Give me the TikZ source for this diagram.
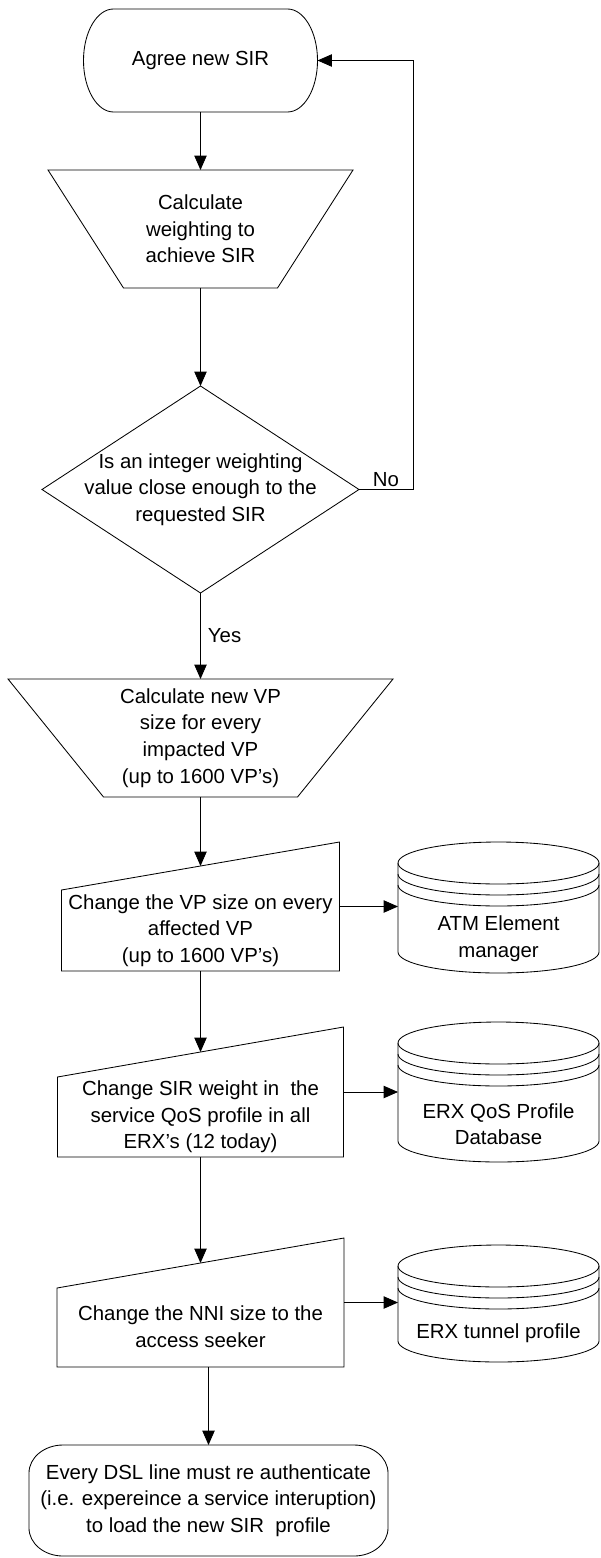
\documentclass[tikz,border=0pt]{standalone}
\usepackage{fontspec}
\setmainfont{Liberation Sans}
\usetikzlibrary{arrows.meta,calc}

% terminator outline round a node: node, x radius, y radius
\newcommand{\termline}[3]{%
  \draw[outline] ([xshift=#2]#1.north west) -- ([xshift=-#2]#1.north east)
    arc[start angle=90, end angle=0, x radius=#2, y radius=#3]
    -- ([yshift=#3]#1.south east)
    arc[start angle=0, end angle=-90, x radius=#2, y radius=#3]
    -- ([xshift=#2]#1.south west)
    arc[start angle=270, end angle=180, x radius=#2, y radius=#3]
    -- ([yshift=-#3]#1.north west)
    arc[start angle=180, end angle=90, x radius=#2, y radius=#3] -- cycle;}
% trapezium, wide side on top: node, inset of the bottom corners
\newcommand{\trapline}[2]{%
  \draw[outline] (#1.north west) -- (#1.north east)
    -- ([xshift=-#2]#1.south east) -- ([xshift=#2]#1.south west) -- cycle;}
% manual input: node, drop of the top left corner
\newcommand{\manline}[2]{%
  \draw[outline] ([yshift=-#2]#1.north west) -- (#1.north east)
    -- (#1.south east) -- (#1.south west) -- cycle;}
% stacked disk store: node, x radius
\newcommand{\diskline}[2]{%
  \draw[outline] ([yshift=-0.525cm]#1.north west) -- ([yshift=0.525cm]#1.south west)
    arc[start angle=180, end angle=360, x radius=#2, y radius=0.525cm]
    -- ([yshift=-0.525cm]#1.north east)
    arc[start angle=0, end angle=180, x radius=#2, y radius=0.525cm];
  \foreach \dy in {0,0.275,0.55}
    \draw[outline] ([yshift=-0.525cm-\dy cm]#1.north west)
      arc[start angle=180, end angle=360, x radius=#2, y radius=0.525cm];}

\begin{document}
\begin{tikzpicture}[
    box/.style={rectangle, inner sep=0pt, outer sep=0pt, align=center,
        font=\fontsize{14.5}{18.9}\selectfont},
    outline/.style={draw=black, line width=0.6pt},
    arr/.style={-{Triangle[length=3.6mm, width=3.1mm]}, line width=0.6pt},
    lbl/.style={font=\fontsize{14.5}{18.9}\selectfont, inner sep=2pt}
]
    \useasboundingbox (0,0) rectangle (15,-38.95);

    % main column
    \node[box, minimum width=5.85cm, minimum height=2.575cm] (agree) at (5.0125,-1.5125)
        {Agree new SIR};
    \node[box, minimum width=7.625cm, minimum height=2.95cm] (calcw) at (5.0125,-5.725)
        {Calculate\\weighting to\\achieve SIR};
    \node[box, minimum width=7.925cm, minimum height=5.175cm] (dec) at (5.0125,-12.2375)
        {Is an integer weighting\\value close enough to the\\requested SIR};
    \node[box, minimum width=9.625cm, minimum height=2.95cm] (calcvp) at (5.0125,-18.45)
        {Calculate new VP\\size for every\\impacted VP\\(up to 1600 VP's)};

    \node[box, minimum width=6.95cm, minimum height=3.225cm] (vpchg) at (5.0125,-22.6625) {};
    \node[box] (vpchgtxt) at ([yshift=-0.6cm]vpchg.center)
        {Change the VP size on every\\affected VP\\(up to 1600 VP's)};
    \node[box, minimum width=7.15cm, minimum height=3.25cm] (qoschg) at (5.0125,-27.3) {};
    \node[box] (qoschgtxt) at ([yshift=-0.625cm]qoschg.center)
        {Change SIR weight in\ \ the\\service QoS profile in all\\ERX's (12 today)};
    \node[box, minimum width=7.175cm, minimum height=3.225cm] (nnichg) at (5.0125,-32.5625) {};
    \node[box] (nnichgtxt) at ([yshift=-0.6cm]nnichg.center)
        {Change the NNI size to the\\access seeker};

    \node[box, minimum width=8.975cm, minimum height=2.775cm] (fin) at (5.2125,-37.5125)
        {Every DSL line must re authenticate\\(i.e. expereince a service interuption)\\to load the new SIR\ \ profile};

    % stores
    \node[box, minimum width=5.025cm, minimum height=3.275cm] (atm) at (12.4625,-22.6875) {};
    \node[box] (atmtxt) at ([yshift=-0.775cm]atm.center) {ATM Element\\manager};
    \node[box, minimum width=5.025cm, minimum height=3.5cm] (qosdb) at (12.4625,-27.3) {};
    \node[box] (qosdbtxt) at ([yshift=-0.8cm]qosdb.center) {ERX QoS Profile\\Database};
    \node[box, minimum width=5.025cm, minimum height=2.925cm] (tundb) at (12.4625,-32.5875) {};
    \node[box] (tundbtxt) at ([yshift=-0.75cm]tundb.center) {ERX tunnel profile};

    % outlines
    \termline{agree}{0.75cm}{1.2875cm}
    \trapline{calcw}{1.8875cm}
    \draw[outline] (dec.north) -- (dec.east) -- (dec.south) -- (dec.west) -- cycle;
    \trapline{calcvp}{2.3875cm}
    \manline{vpchg}{1.2cm}
    \manline{qoschg}{1.25cm}
    \manline{nnichg}{1.25cm}
    \termline{fin}{0.85cm}{0.7cm}
    \diskline{atm}{2.5125cm}
    \diskline{qosdb}{2.5125cm}
    \diskline{tundb}{2.5125cm}

    % flow
    \draw[arr] (agree.south) -- (calcw.north);
    \draw[arr] (calcw.south) -- (dec.north);
    \draw[arr] (dec.east) -- node[lbl, above] {No} ++(1.35,0) |- (agree.east);
    \draw[arr] (dec.south) -- node[lbl, right, xshift=3pt] {Yes} (calcvp.north);
    \draw[arr] (calcvp.south) -- ([yshift=-0.6cm]vpchg.north);
    \draw[arr] (vpchg.south) -- ([yshift=-0.625cm]qoschg.north);
    \draw[arr] (qoschg.south) -- ([yshift=-0.625cm]nnichg.north);
    \draw[arr] (nnichg.south -| fin.north) -- (fin.north);

    \draw[arr] (vpchg.east) -- (vpchg.east -| atm.west);
    \draw[arr] (qoschg.east) -- (qoschg.east -| qosdb.west);
    \draw[arr] (nnichg.east) -- (nnichg.east -| tundb.west);
\end{tikzpicture}
\end{document}
